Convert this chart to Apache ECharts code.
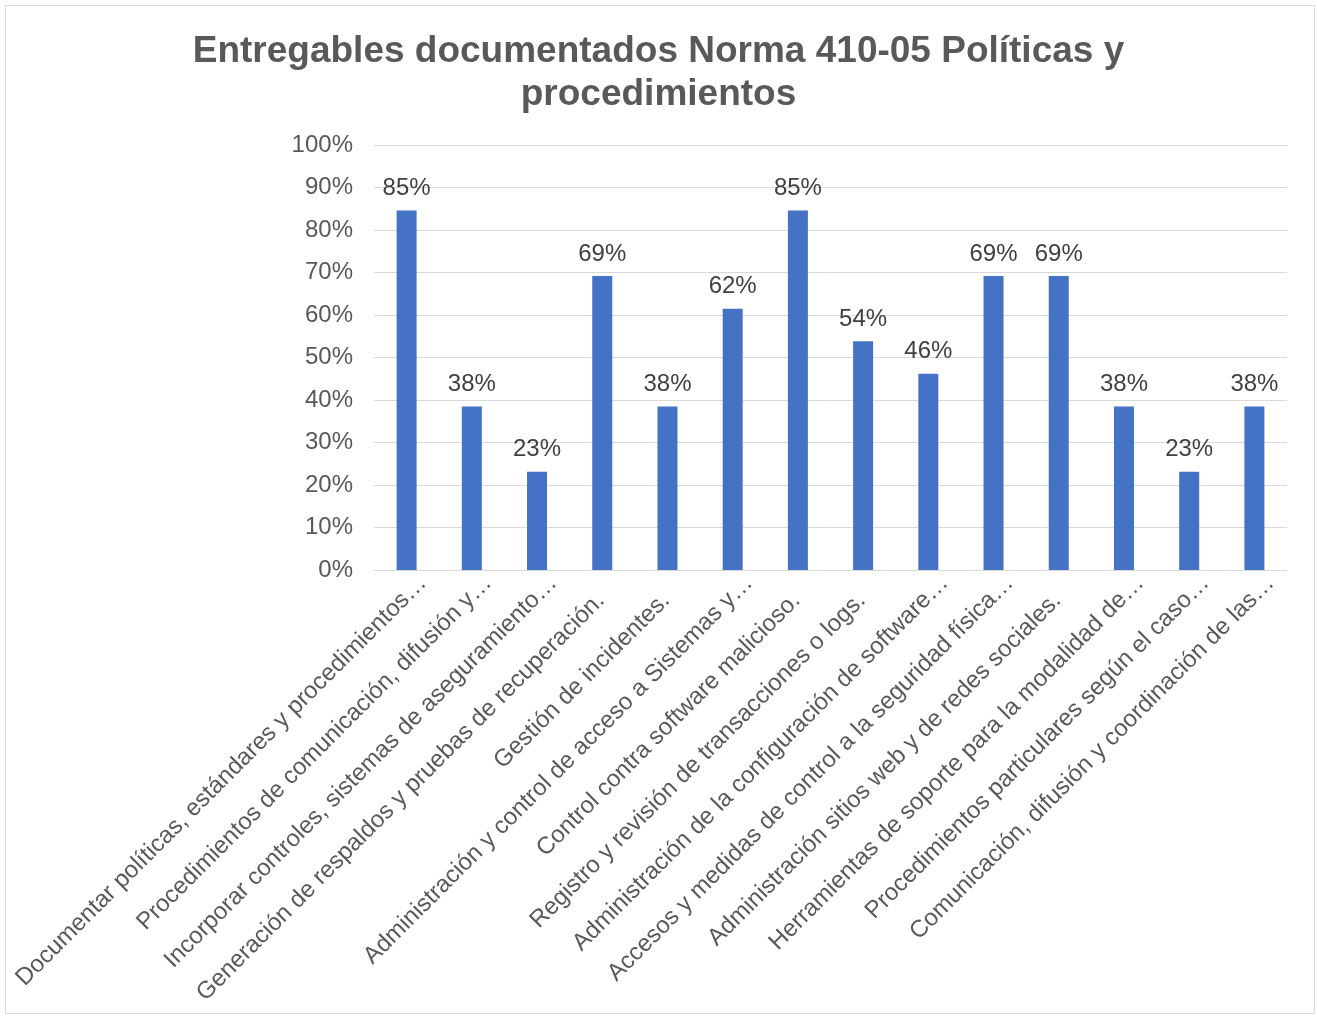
<!DOCTYPE html>
<html>
<head>
<meta charset="utf-8">
<script src="https://cdn.jsdelivr.net/npm/echarts@6/dist/echarts.min.js"></script>
<style>
html,body{margin:0;padding:0;background:#fff;}
#chart{width:1317px;height:1017px;}
</style>
</head>
<body>
<div id="chart"></div>
<script>
const categories = [
  "Documentar políticas, estándares y procedimientos…",
  "Procedimientos de comunicación, difusión y…",
  "Incorporar controles, sistemas de aseguramiento…",
  "Generación de respaldos y pruebas de recuperación.",
  "Gestión de incidentes.",
  "Administración y control de acceso a Sistemas y…",
  "Control contra software malicioso.",
  "Registro y revisión de transacciones o logs.",
  "Administración de la configuración de software…",
  "Accesos y medidas de control a la seguridad física…",
  "Administración sitios web y de redes sociales.",
  "Herramientas de soporte para la modalidad de…",
  "Procedimientos particulares según el caso…",
  "Comunicación, difusión y coordinación de las…"
];
const values = [84.6, 38.46, 23.1, 69.2, 38.46, 61.5, 84.6, 53.8, 46.2, 69.2, 69.2, 38.46, 23.1, 38.46];
const yTicks = [0, 10, 20, 30, 40, 50, 60, 70, 80, 90, 100];
const titleText = "Entregables documentados Norma 410-05 Políticas y\nprocedimientos";

const FONT = 'Liberation Sans, Arial, sans-serif';
const chart = echarts.init(document.getElementById('chart'));
chart.setOption({
  animation: false,
  graphic: [{
    type: 'rect',
    shape: {x: 5.5, y: 5.5, width: 1309, height: 1008},
    style: {fill: 'none', stroke: '#d9d9d9', lineWidth: 1}
  }],
  title: {
    text: titleText,
    left: 'center',
    top: 25,
    textStyle: {
      fontFamily: FONT,
      fontSize: 37,
      fontWeight: 'bold',
      color: '#595959',
      lineHeight: 43
    }
  },
  grid: {left: 374, right: 30, top: 145, bottom: 447, containLabel: false},
  xAxis: {
    type: 'category',
    data: categories,
    axisLine: {lineStyle: {color: '#d9d9d9', width: 1}},
    axisTick: {show: false},
    axisLabel: {
      interval: 0,
      rotate: 45,
      margin: -7,
      verticalAlign: 'top',
      lineHeight: 46,
      fontFamily: FONT,
      fontSize: 24,
      color: '#595959',
      formatter: v => v.endsWith('…') ? '{e|' + v + '}' : '{p|' + v + '}',
      rich: {
        e: {fontFamily: FONT, fontSize: 24, color: '#595959', lineHeight: 46},
        p: {fontFamily: FONT, fontSize: 24, color: '#595959', lineHeight: 46, padding: [0, 25, 0, 0]}
      }
    }
  },
  yAxis: {
    type: 'value',
    min: 0,
    max: 100,
    interval: 10,
    axisLine: {show: false},
    axisTick: {show: false},
    splitLine: {lineStyle: {color: '#d9d9d9', width: 1}},
    axisLabel: {
      margin: 21,
      fontFamily: FONT,
      fontSize: 24,
      color: '#595959',
      formatter: v => yTicks.includes(v) ? v + '%' : ''
    }
  },
  series: [{
    type: 'bar',
    data: values,
    barWidth: 20,
    itemStyle: {color: '#4472c4'},
    label: {
      show: true,
      position: 'top',
      distance: 10,
      fontFamily: FONT,
      fontSize: 24,
      color: '#404040',
      formatter: p => Math.round(p.value) + '%'
    }
  }]
});
</script>
</body>
</html>
